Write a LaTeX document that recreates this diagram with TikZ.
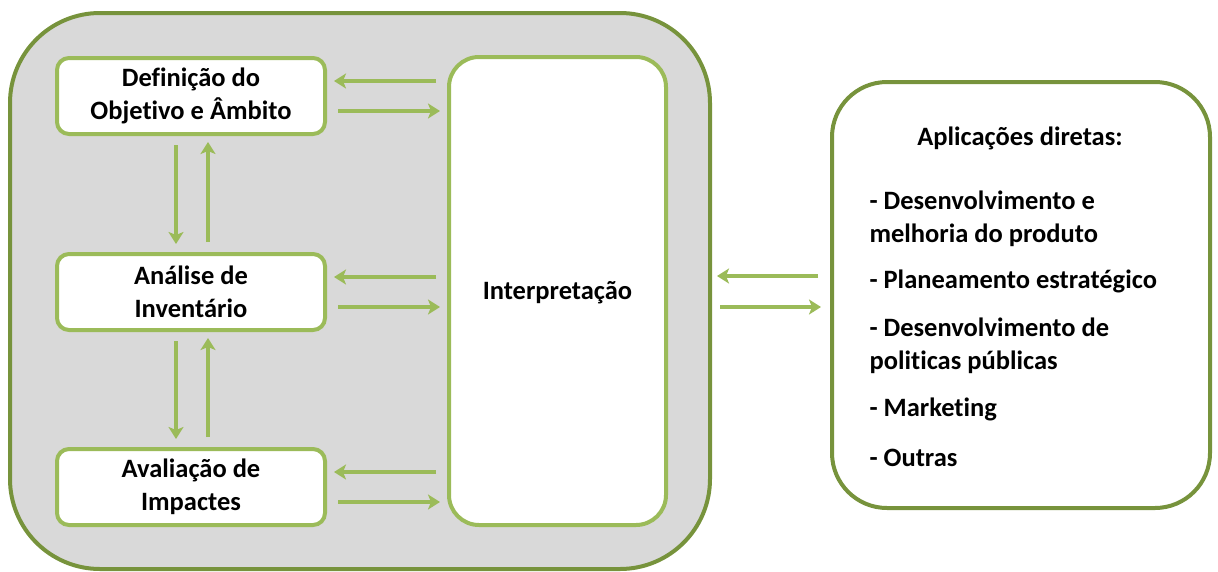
\documentclass[tikz,border=0pt]{standalone}
\usepackage{fontspec}
\setmainfont[Ligatures=NoCommon]{Carlito}
\usetikzlibrary{arrows.meta,calc}
\definecolor{darkgreen}{HTML}{77933C}
\definecolor{lightgreen}{HTML}{9BBB59}
\definecolor{panelgray}{HTML}{D9D9D9}
\tikzset{
  txt/.style={font=\fontsize{26.5}{32.5}\selectfont\bfseries, text=black},
  stagebox/.style={draw=lightgreen, line width=4pt, fill=white, rounded corners=12pt,
    minimum width=268pt, minimum height=76pt, align=center, txt, inner sep=0pt},
  arr/.style={draw=lightgreen, line width=4pt,
    -{Stealth[width=15pt,length=12pt,inset=3pt]}},
}
\begin{document}
\begin{tikzpicture}[x=1pt,y=-1pt]
\useasboundingbox (0,0) rectangle (1218,571);
% outer panel
\node[draw=darkgreen, line width=4pt, fill=panelgray, rounded corners=90pt,
  minimum width=700pt, minimum height=556pt, inner sep=0pt] (outer) at (360,291) {};
% stages
\node[stagebox] (def) at (191,96) {Definição do\\Objetivo e Âmbito};
\node[stagebox] (ana) at (191,292) {Análise de\\Inventário};
\node[stagebox] (ava) at (191,487) {Avaliação de\\Impactes};
\node[draw=lightgreen, line width=4pt, fill=white, rounded corners=30pt,
  minimum width=217pt, minimum height=468pt, inner sep=0pt] (interp) at (557.5,291) {};
\node[txt] (interptxt) at (557.5,293) {Interpretação};
% applications box
\node[draw=darkgreen, line width=4pt, fill=white, rounded corners=55pt,
  minimum width=378pt, minimum height=426pt, inner sep=0pt] (apps) at (1021,295) {};
\node[txt] (head) at (1020,138) {Aplicações diretas:};
\node[txt, anchor=west, align=left] (i1) at (866,219) {- Desenvolvimento e\\melhoria do produto};
\node[txt, anchor=west] (i2) at (866,281) {- Planeamento estratégico};
\node[txt, anchor=west, align=left] (i3) at (866,346) {- Desenvolvimento de\\politicas públicas};
\node[txt, anchor=west] (i4) at (866,409) {- Marketing};
\node[txt, anchor=west] (i5) at (866,458) {- Outras};
% arrows between stages and interpretation
\foreach \s in {def,ana,ava}{
  \draw[arr] ($(interp.west|-\s.east)+(-11,-15)$) -- ($(\s.east)+(7,-15)$);
  \draw[arr] ($(\s.east)+(11,15)$) -- ($(interp.west|-\s.east)+(-7,15)$);
}
% vertical arrows between stages
\draw[arr] ($(def.south)+(-15,9)$) -- ($(ana.north)+(-15,-8)$);
\draw[arr] ($(ana.north)+(17,-10)$) -- ($(def.south)+(17,6)$);
\draw[arr] ($(ana.south)+(-15,9)$) -- ($(ava.north)+(-15,-8)$);
\draw[arr] ($(ava.north)+(17,-10)$) -- ($(ana.south)+(17,6)$);
% arrows between panel and applications
\draw[arr] ($(apps.west|-outer.east)+(-12,-15)$) -- ($(outer.east)+(5,-15)$);
\draw[arr] ($(outer.east)+(8,16)$) -- ($(apps.west|-outer.east)+(-9,16)$);
\end{tikzpicture}
\end{document}
